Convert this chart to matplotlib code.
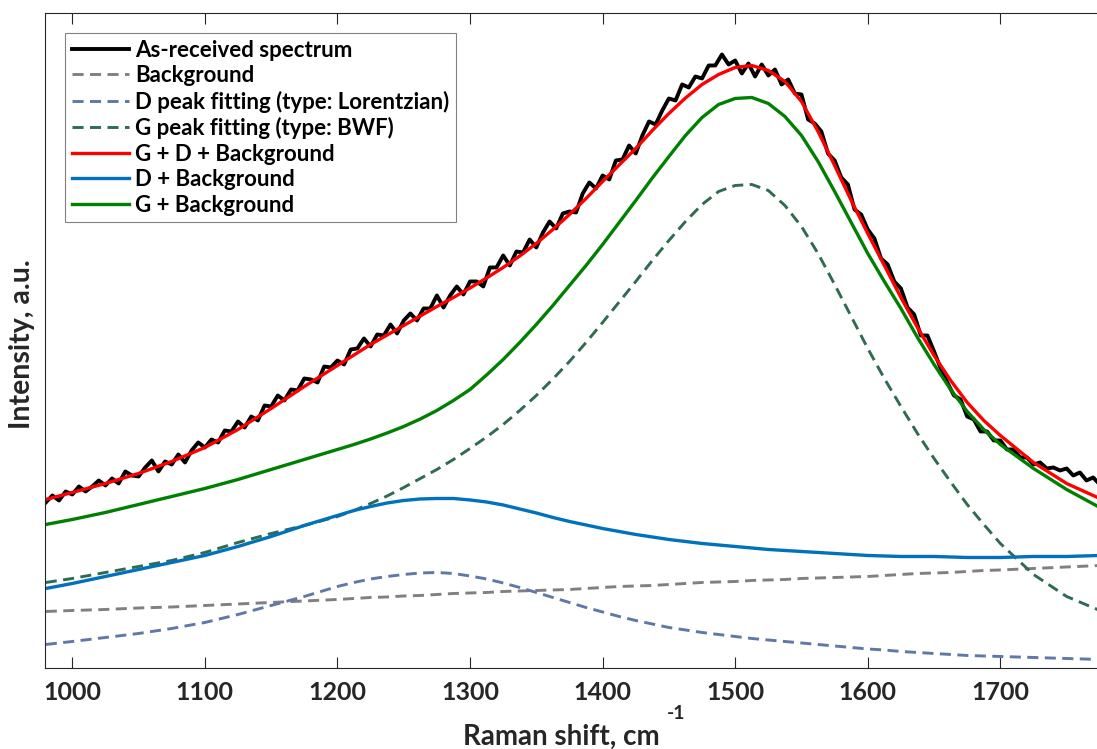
import matplotlib
matplotlib.use("Agg")
import matplotlib.pyplot as plt

# Raman shift grid for the fitted curves (cm^-1), finer around the peaks
shift = [980, 1000, 1025, 1050, 1075, 1100, 1125, 1150, 1175,
         1200, 1212.5, 1225, 1237.5, 1250, 1262.5, 1275, 1287.5, 1300, 1312.5,
         1325, 1337.5, 1350, 1362.5, 1375, 1387.5, 1400, 1412.5, 1425, 1437.5,
         1450, 1462.5, 1475, 1487.5, 1500, 1512.5, 1525, 1537.5, 1550, 1562.5,
         1575, 1587.5, 1600, 1612.5, 1625, 1637.5, 1650, 1662.5, 1675, 1687.5,
         1700, 1725, 1750, 1775]

# fitted curves, a.u.
background = [57, 58, 59, 60.5, 61.5, 63, 64.5, 66, 67.5,
              69, 70, 71, 71.5, 72.5, 73, 74, 75, 75.5, 76,
              77, 77.5, 78, 78.5, 79, 80, 81, 82, 82.5, 83,
              84, 85, 86, 86.5, 87, 88, 88.5, 89, 90, 90.5,
              91, 91.5, 92, 93, 94, 95, 95.5, 96, 97, 98,
              98.5, 100, 101.5, 103]
d_peak = [24, 27, 31, 35, 40, 46, 54, 63, 72,
          82, 86, 89.5, 92, 94, 95.5, 96, 95, 92.5, 89.5,
          85.5, 81, 76, 71, 66, 61, 56.5, 52, 48, 44.5,
          41, 38.5, 36, 34, 32, 30, 28.5, 27, 25.5, 24,
          22.5, 21, 19.5, 18.5, 17, 16, 15, 14, 13, 12.5,
          12, 11, 10, 9]
g_peak = [86, 90, 96, 102, 108, 116, 126, 135, 143,
          152, 158, 165, 172.5, 181, 190, 199, 209, 220, 231.5,
          244, 258, 273, 289.5, 307, 326, 346, 366.5, 387, 408,
          428, 447, 464, 477, 483, 484, 478, 463, 442, 415,
          384, 352, 320, 290, 262, 235, 210, 186.5, 164, 144,
          125, 94, 72, 58]
g_d_bg = [169, 176, 185, 195, 207, 221, 239, 260, 282,
          303, 313.5, 324, 333.5, 343, 352.5, 362, 371, 380.5, 390.5,
          401, 412.5, 425, 439, 454, 470, 487, 503.5, 520, 538,
          555, 570.5, 584, 594, 601, 603, 598, 587, 567, 537,
          503, 468, 435, 403, 371, 341, 313, 288, 266, 248,
          233, 206, 185, 170]
d_bg = [80, 85, 92, 99, 106, 113, 122, 132, 143,
        153, 158, 162, 165.5, 168, 169.5, 170, 170, 168.5, 166.5,
        163.5, 159.5, 155.5, 151, 147, 143.5, 140, 137, 134, 131.5,
        129, 127, 125, 123.5, 122, 120.5, 119, 118, 117, 116,
        115, 114, 113, 112.5, 112, 112, 112, 111.5, 111, 111,
        111, 112, 112, 113]
g_bg = [144, 149, 156, 164, 172, 180, 189, 199, 209,
        219, 224, 229.5, 235.5, 242, 249.5, 258, 268, 279, 293.5,
        309, 326, 344, 363, 383, 403, 424, 446, 468, 490.5,
        512, 533, 551, 564, 570, 571, 565, 552, 533, 507,
        477, 446, 415, 387, 360, 331, 304, 279, 257, 239,
        224, 200, 179, 161]

# measured spectrum, every 5 cm^-1 from 980 to 1775
raw_shift = list(range(980, 1780, 5))
raw_intensity = [
    166, 173, 168, 177, 174, 182, 177, 182, 188, 183, 190, 185, 197, 193, 192, 201,
    208, 197, 207, 204, 214, 206, 218, 226, 221, 229, 226, 238, 237, 247, 241, 252,
    248, 263, 262, 273, 268, 279, 278, 290, 289, 286, 302, 301, 308, 304, 319, 320,
    330, 322, 334, 333, 344, 335, 348, 355, 348, 360, 360, 373, 361, 373, 382, 374,
    387, 387, 382, 401, 401, 413, 403, 417, 416, 429, 421, 436, 447, 440, 455, 457,
    456, 475, 486, 480, 493, 489, 508, 509, 523, 515, 533, 547, 544, 558, 570, 568,
    584, 581, 592, 590, 603, 603, 614, 604, 608, 595, 605, 592, 604, 593, 599, 584,
    589, 575, 574, 549, 545, 537, 515, 508, 491, 484, 459, 454, 439, 430, 410, 404,
    387, 380, 361, 354, 333, 333, 317, 300, 286, 273, 269, 252, 249, 237, 237, 228,
    228, 219, 219, 211, 211, 204, 206, 200, 201, 198, 200, 193, 196, 188, 191, 184]

labels = ["As-received spectrum", "Background", "D peak fitting (type: Lorentzian)",
          "G peak fitting (type: BWF)", "G + D + Background", "D + Background",
          "G + Background"]

plt.rcParams['font.family'] = ['Lato', 'DejaVu Sans']
plt.rcParams['font.weight'] = 'bold'
txt_color = '#262626'

fig = plt.figure(figsize=(10.97, 7.49), dpi=100)
ax = fig.add_axes([0.041, 0.1075, 0.959, 0.8745])

dash = (3.8, 2.2)
ax.plot(raw_shift, raw_intensity, color='black', lw=2.8, label=labels[0])
ax.plot(shift, background, color='#808080', lw=2.1, dashes=dash, label=labels[1])
ax.plot(shift, d_peak, color='#6078A8', lw=2.1, dashes=dash, label=labels[2])
ax.plot(shift, g_peak, color='#2F6B4F', lw=2.1, dashes=dash, label=labels[3])
ax.plot(shift, g_d_bg, color='#FF0000', lw=2.4, label=labels[4])
ax.plot(shift, d_bg, color='#0072BD', lw=2.4, label=labels[5])
ax.plot(shift, g_bg, color='#008000', lw=2.4, label=labels[6])

ax.set_xlim(979.4, 1772.9)
ax.set_ylim(0, 655)
ax.set_xticks(range(1000, 1701, 100))
ax.set_yticks([])
ax.tick_params(axis='x', direction='in', length=8, width=0.8, top=True,
               labelsize=18, pad=9, colors=txt_color)
for lab in ax.get_xticklabels():
    lab.set_fontweight('bold')
for side in ['left', 'bottom', 'top']:
    ax.spines[side].set_color(txt_color)
    ax.spines[side].set_linewidth(0.8)
ax.spines['right'].set_visible(False)

# axis titles
fig.text(660 / 1097, 4 / 749, "Raman shift, cm", ha='right', va='baseline',
         fontsize=20, fontweight='bold', color=txt_color)
fig.text(667 / 1097, 30 / 749, "-1", ha='left', va='baseline',
         fontsize=14, fontweight='bold', color=txt_color)
fig.text(22 / 1097, 405 / 749, "Intensity, a.u.", ha='center', va='center',
         rotation=90, fontsize=20.5, fontweight='bold', color=txt_color)

leg = ax.legend(loc='upper left', bbox_to_anchor=(0.019, 0.970), borderaxespad=0,
                fontsize=16, handlelength=2.6, handletextpad=0.27, labelspacing=0.2,
                borderpad=0.3, fancybox=False, framealpha=1)
leg.get_frame().set_edgecolor('#808080')
leg.get_frame().set_linewidth(0.8)
for t in leg.get_texts():
    t.set_fontweight('bold')

fig.savefig("out.png", dpi=100)
